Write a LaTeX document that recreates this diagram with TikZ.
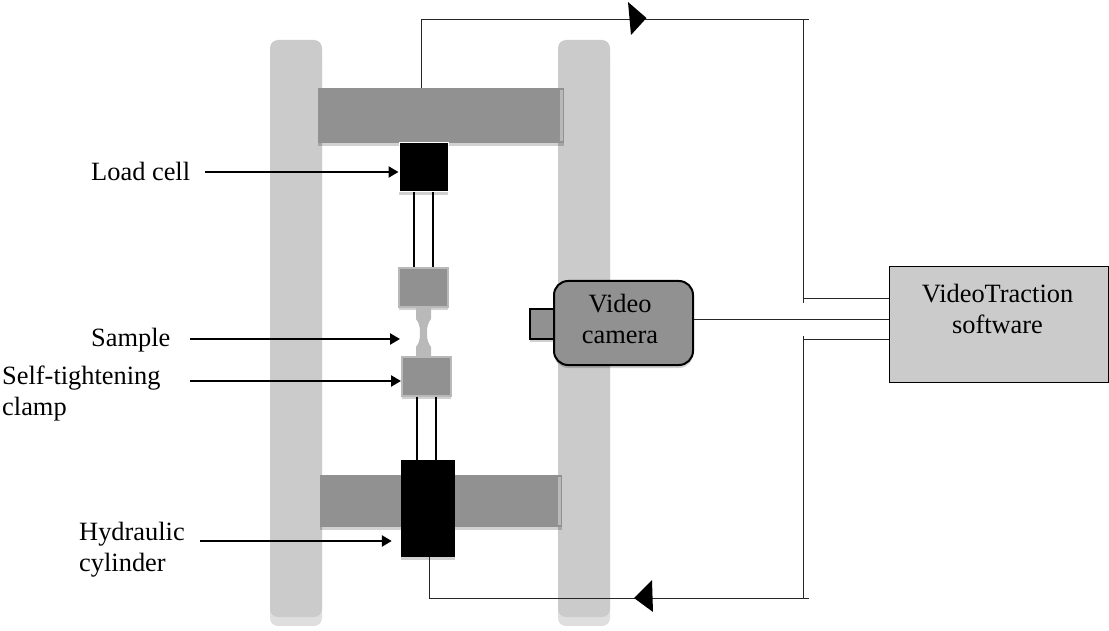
\documentclass[tikz,border=0pt]{standalone}
\usepackage{fontspec}
\setmainfont{Liberation Serif}
\usepackage{xcolor}
\usetikzlibrary{arrows.meta, shapes.geometric, positioning, shadows}
\definecolor{framegray}{HTML}{CBCBCB}
\definecolor{bargray}{HTML}{919191}
\definecolor{edgegray}{HTML}{B9B9B9}
\tikzset{
    softshadow/.style={drop shadow={shadow xshift=0pt, shadow yshift=-3pt, opacity=0.18, fill=black}},
    column/.style={rectangle, rounded corners=8pt, minimum width=52pt, minimum height=577pt, inner sep=0pt, fill=framegray, drop shadow={shadow xshift=0pt, shadow yshift=-9pt, opacity=0.13, fill=black}},
    crossbar/.style={rectangle, inner sep=0pt, fill=bargray, softshadow},
    clamp/.style={rectangle, minimum width=49pt, minimum height=39pt, inner sep=0pt, draw=edgegray, line width=2pt, fill=bargray, softshadow},
    blackbox/.style={rectangle, inner sep=0pt, fill=black, softshadow},
    softbox/.style={rectangle, inner sep=0pt, draw=black, text=black},
    label/.style={inner sep=0pt, anchor=west, align=left, font=\fontsize{26.4}{31}\selectfont},
    boxtext/.style={inner sep=0pt, align=center, font=\fontsize{26.4}{31}\selectfont},
    arrow/.style={line width=2.5pt, -{Triangle[length=10pt, width=11pt]}},
    wire/.style={line width=1pt, draw=black!85},
    rod/.style={line width=2.2pt, black},
    flowtip/.style={fill=black}
}
\begin{document}
\begin{tikzpicture}[x=1pt, y=-1pt]
    \useasboundingbox (0,0) rectangle (1109,631);

    % frame
    \node (leftcolumn) [column] at (296,328.5) {};
    \node (rightcolumn) [column] at (584,328.5) {};
    \node (topbar) [crossbar, minimum width=246pt, minimum height=55pt] at (441,115.5) {};
    \node (lowbar) [crossbar, minimum width=242pt, minimum height=52pt] at (441,501) {};
    \fill [edgegray] (560,90) rectangle (563,141);
    \fill [edgegray] (558,477) rectangle (561,525);

    % rods
    \node (upperclamp) [clamp] at (423.5,287.5) {};
    \node (loadcell) [blackbox, draw=white, line width=1pt, minimum width=49pt, minimum height=49pt] at (423.5,167.5) {};
    \draw [rod] (loadcell.south -| 414,0) -- (upperclamp.north -| 414,0);
    \draw [rod] (loadcell.south -| 433,0) -- (upperclamp.north -| 433,0);

    % sample
    \fill [edgegray] (416,307) -- (431,307) -- (431,319) .. controls (428,323) and (427,326) .. (427,333)
        .. controls (427,340) and (428,343) .. (431,347) -- (431,360) -- (416,360) -- (416,347)
        .. controls (419,343) and (420,340) .. (420,333) .. controls (420,326) and (419,323) .. (416,319) -- cycle;
    \coordinate (sampletip) at (400,339);

    \node (lowerclamp) [clamp] at (426.5,376.5) {};
    \node (cylinder) [blackbox, minimum width=54pt, minimum height=97pt] at (428,508.5) {};
    \draw [rod] (lowerclamp.south -| 417,0) -- (cylinder.north -| 417,0);
    \draw [rod] (lowerclamp.south -| 436,0) -- (cylinder.north -| 436,0);

    % camera and software
    \node (lens) [softbox, line width=1.5pt, fill=bargray, minimum width=24pt, minimum height=30pt, softshadow] at (542,324) {};
    \node (camera) [softbox, line width=2pt, rounded corners=14pt, fill=bargray, minimum width=139pt, minimum height=84pt, softshadow] at (623.5,323) {};
    \node (cameratext) [boxtext] at (620,319) {Video\\camera};
    \node (software) [softbox, line width=1pt, fill=framegray, minimum width=219pt, minimum height=115pt] at (998.5,324.5) {};
    \node (softwaretext) [boxtext] at (997.5,309) {VideoTraction\\software};

    % wiring
    \coordinate (topcorner) at (421.5,19.5);
    \coordinate (topend) at (809,19.5);
    \coordinate (lowcorner) at (429,598);
    \coordinate (lowend) at (809,598);
    \coordinate (upperbus) at (803.5,303);
    \coordinate (lowerbus) at (803.5,336);
    \draw [wire] (topbar.north -| topcorner) -- (topcorner) -- (topend);
    \draw [wire] (cylinder.south -| lowcorner) -- (lowcorner) -- (lowend);
    \draw [wire] (upperbus) -- (upperbus |- topend);
    \draw [wire] (lowerbus) -- (lowerbus |- lowend);
    \draw [wire] (upperbus |- 0,299) -- (software.west |- 0,299);
    \draw [wire] (camera.east |- 0,319) -- (software.west |- 0,319);
    \draw [wire] (lowerbus |- 0,339) -- (software.west |- 0,339);
    \fill [flowtip] (628,2) -- (646.5,18) -- (631,35) -- cycle;
    \fill [flowtip] (634,598) -- (652,580) -- (653,612) -- cycle;

    % labels
    \node (celllabel) [label] at (91,171) {Load cell};
    \node (samplelabel) [label] at (91,340) {Sample};
    \node (clamplabel) [label] at (2,394) {Self-tightening\\clamp};
    \node (cylinderlabel) [label] at (79,549.5) {Hydraulic\\cylinder};
    \coordinate (celltail) at (205,172);
    \coordinate (sampletail) at (190,339);
    \coordinate (clamptail) at (190,381);
    \coordinate (cylindertail) at (200,541);
    \draw [arrow] (celltail) -- (loadcell.west |- celltail);
    \draw [arrow] (sampletail) -- (sampletip);
    \draw [arrow] (clamptail) -- (lowerclamp.west |- clamptail);
    \draw [arrow, shorten >=9pt] (cylindertail) -- (cylinder.west |- cylindertail);
\end{tikzpicture}
\end{document}
